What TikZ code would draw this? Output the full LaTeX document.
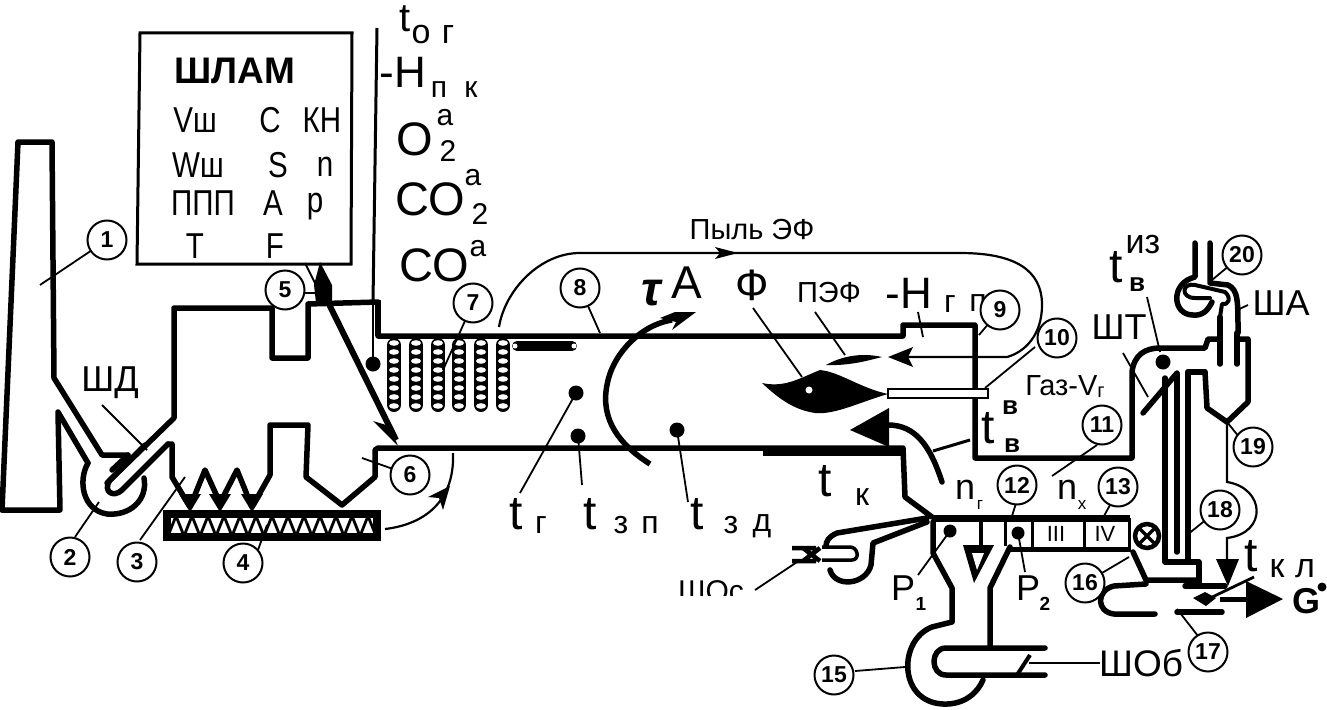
\documentclass[tikz,border=0pt]{standalone}
\usepackage{graphicx}
\usepackage{fontspec}
\setmainfont{Liberation Sans}
\usetikzlibrary{arrows.meta}
\newcommand{\nrw}[1]{\scalebox{.82}[1]{#1}}
\tikzset{
 wall/.style={line width=5.5pt,line join=round,line cap=round},
 thin/.style={line width=2.2pt},
 lead/.style={line width=1.8pt},
 num/.style={circle,draw,line width=2pt,fill=white,minimum size=39pt,inner sep=0pt,font=\bfseries\fontsize{23}{23}\selectfont},
 lab/.style={inner sep=0pt,font=\fontsize{48}{48}\selectfont},
 labm/.style={inner sep=0pt,font=\fontsize{34}{34}\selectfont},
 labq/.style={inner sep=0pt,font=\fontsize{30}{30}\selectfont},
 labs/.style={inner sep=0pt,font=\fontsize{32}{32}\selectfont},
 labt/.style={inner sep=0pt,font=\fontsize{36}{36}\selectfont},
 dotm/.style={circle,fill=black,inner sep=0pt,minimum size=15pt},
 coil/.style={line width=14pt,line cap=round},
}
\begin{document}
\begin{tikzpicture}[x=1pt,y=-1pt]
\useasboundingbox (0,0) rectangle (1327,709);
\begin{scope}
\clip (0,0) rectangle (1327,709);
% chimney
\draw[wall] (2,510) -- (18,142) -- (52,142) -- (54,378) -- (102,455) -- (128,455);
\draw[wall] (2,510) -- (60,510) -- (58,412) -- (88,463);
% fan 2
\draw[wall] (88,463) .. controls (78,480) and (82,510) .. (107,514) .. controls (130,516) and (148,500) .. (144,478);
\draw[wall] (145,445) -- (110,480) .. controls (102,492) and (114,498) .. (122,490) -- (168,444);
\draw[wall] (128,455) -- (112,470);
% main walls
\draw[wall] (107,483) -- (174,418) -- (174,308) -- (272,308) -- (272,358) -- (308,358) -- (308,304) -- (378,302) -- (378,336) -- (903,336) -- (903,325) -- (975,325) -- (975,458) -- (1132,458) -- (1132,372) .. controls (1134,355) and (1145,348) .. (1160,348) -- (1205,348) -- (1208,339) -- (1220,339);
\draw[wall] (168,444) -- (172,444) -- (172,477) -- (190,507) -- (205,470) -- (220,503) -- (237,470) -- (252,507) -- (270,475) -- (270,425) -- (308,425) -- (306,477) -- (342,505) -- (375,477) -- (375,450) -- (378,448) -- (903,448) -- (905,497) -- (932,517);
\draw[line width=9pt] (763,451) -- (903,451);
\foreach \x in {190,220,252}{\fill (\x-11,494) -- (\x+11,494) -- (\x,512) -- cycle;}
% grate
\draw[line width=8pt,fill=white] (167,514) rectangle (377,537);
\foreach \i in {0,...,12}{
 \draw[line width=2.8pt] ({168+\i*16},536) -- ({176+\i*16},516) -- ({184+\i*16},536);
}
\draw[thin] (385,529) .. controls (420,525) and (455,505) .. (453,453);
\fill (450,486) -- (443,510) -- (439,498) -- (428,497) -- cycle;
% box
\draw[line width=3pt] (140,33) -- (352,33) -- (351,264) -- (137,264) -- cycle;
\node[inner sep=0pt,font=\bfseries\fontsize{37}{37}\selectfont] at (235,71) {ШЛАМ};
\foreach \t/\x/\y in {Vш/195/120,С/270/120,КН/322/120,Wш/198/165,S/278/165,n/325/167,ППП/203/203,А/273/203,р/315/207,Т/195/246,F/275/246}{
 \node[labt] at (\x,\y) {\nrw{\t}};}
% vertical line
\draw[line width=3pt] (377,28) -- (373,302);
\draw[line width=6pt] (378,300) -- (378,336);
% labels top
\node[inner sep=0pt,font=\fontsize{40}{40}\selectfont] at (405,19) {t}; \node[labm] at (421,35) {о}; \node[labm] at (448,35) {г};
\node[inner sep=0pt,font=\fontsize{44}{44}\selectfont] at (403,72) {-Н}; \node[labq] at (439,90) {п}; \node[labq] at (471,90) {к};
\node[inner sep=0pt,font=\fontsize{47}{47}\selectfont] at (415,139) {О}; \node[labq] at (445,118) {a}; \node[labq] at (448,151) {2};
\node[inner sep=0pt,font=\fontsize{47}{47}\selectfont] at (430,199) {СО}; \node[labq] at (473,178) {a}; \node[labq] at (480,214) {2};
\node[inner sep=0pt,font=\fontsize{47}{47}\selectfont] at (434,265) {СО}; \node[labq] at (478,249) {a};
% rod
\draw[line width=6pt] (322,290) -- (396,440);
\draw[line width=2pt] (305,263) -- (320,293);
\fill (320,262) -- (332,285) -- (332,303) -- (316,303) -- (314,285) -- cycle;
\fill (398,446) -- (373,421) -- (386,425) -- (384,412) -- cycle;
\draw[line width=2pt] (373,302) -- (373,360);
\node[dotm] at (373,364) {};
% coils
\foreach \x in {394,416,438,459,481,503}{
 \draw[coil] (\x,345) -- (\x,405);
 \foreach \k in {0,...,7}{\fill[white] (\x,{343+\k*9}) ellipse (5pt and 2.8pt);}
}
% heater 8
\draw[line width=10pt,line cap=round] (517,346) -- (572,346);
\fill[white] (515,346) circle (2.5pt); \fill[white] (574,346) circle (2.5pt);
% duct Пыль
\draw[thin] (499,327) .. controls (505,290) and (540,253) .. (580,253) -- (960,253) .. controls (1015,253) and (1042,270) .. (1042,305) .. controls (1042,335) and (1025,352) .. (1007,357) -- (905,357);
\fill (715,247) -- (738,253) -- (715,259) -- (720,253) -- cycle;
\fill (888,357) -- (913,347) -- (908,357) -- (913,367) -- cycle;
\node[inner sep=0pt,font=\fontsize{29}{29}\selectfont] at (752,230) {Пыль ЭФ};
% rotation arrow
\draw[line width=5.5pt] (650,464) .. controls (620,445) and (600,420) .. (607,385) .. controls (612,355) and (640,325) .. (672,320);
\fill (696,312) -- (672,330) -- (676,322) -- (660,318) -- (675,312) -- cycle;
\node[inner sep=0pt,font=\bfseries\itshape\fontsize{48}{48}\selectfont] at (651,293) {τ};
\node[inner sep=0pt,font=\fontsize{46}{46}\selectfont] at (687,283) {А};
\node[inner sep=0pt,font=\fontsize{44}{44}\selectfont] at (752,285) {Ф};
\node[inner sep=0pt,font=\fontsize{29}{29}\selectfont] at (829,293) {ПЭФ};
\node[inner sep=0pt,font=\fontsize{44}{44}\selectfont] at (909,293) {-Н}; \node[labs] at (950,304) {г}; \node[labs] at (978,303) {п};
% flames
\fill (762,383) .. controls (785,388) and (800,378) .. (820,370) .. controls (840,372) and (860,388) .. (888,394) .. controls (860,402) and (835,415) .. (815,413) .. controls (795,410) and (780,400) .. (762,383) -- cycle;
\fill[white] (809,390) circle (3.5pt);
\fill (826,365) .. controls (840,357) and (860,352) .. (882,357) .. controls (870,360) and (850,366) .. (826,365) -- cycle;
\draw[lead] (753,308) -- (802,377);
\draw[lead] (815,312) -- (845,355);
\draw[lead] (918,312) -- (923,337);
% burner
\draw[line width=2.5pt,fill=white] (888,389) rectangle (988,398);
\draw[line width=3pt] (970,440) -- (933,451);
% big arrow
\draw[line width=5.5pt,line cap=round] (888,425) .. controls (915,425) and (930,445) .. (942,482);
\fill (850,430) -- (889,408) -- (889,447) -- cycle;
% dots with leaders
\foreach \a/\b in {576/393,578/436,677/430}{\node[dotm] at (\a,\b) {};}
\draw[lead] (576,393) -- (520,493);
\draw[lead] (578,436) -- (582,485);
\draw[lead] (677,430) -- (688,502);
\node[lab] at (516,514) {t}; \node[labs] at (541,525) {г};
\node[lab] at (590,514) {t}; \node[labs] at (621,525) {з}; \node[labs] at (650,525) {п};
\node[lab] at (697,514) {t}; \node[labs] at (731,525) {з}; \node[labs] at (762,526) {д};
\node[lab] at (825,481) {t}; \node[labs] at (862,497) {к};
% t_в
\node[lab] at (988,428) {t}; \node[inner sep=0pt,font=\bfseries\fontsize{26}{26}\selectfont] at (1010,408) {в}; \node[inner sep=0pt,font=\bfseries\fontsize{26}{26}\selectfont] at (1012,446) {в};
\node[inner sep=0pt,font=\fontsize{29}{29}\selectfont] at (1065,387) {Газ-V\raisebox{-2pt}{\fontsize{20}{20}\selectfont г}};
% bar
\draw[line width=7pt] (932,518) -- (1130,518);
\draw[line width=5pt] (1010,549) -- (1131,549);
\draw[line width=3pt] (981,522) -- (981,545) (1005,522) -- (1005,546) (1032,522) -- (1032,548) (1084,522) -- (1084,548) (1129,518) -- (1129,550);
\node[inner sep=0pt,font=\fontsize{22}{22}\selectfont] at (1056,534) {III};
\node[inner sep=0pt,font=\fontsize{22}{22}\selectfont] at (1105,534) {IV};
% valve
\draw[line width=4.5pt] (1147,536) circle (12pt);
\draw[line width=3.5pt] (1139,528) -- (1155,544) (1139,544) -- (1155,528);
% ШОс fan
\draw[wall] (927,518) -- (837,533) .. controls (828,537) and (826,542) .. (826,546);
\draw[wall] (927,522) -- (873,543) -- (871,565) .. controls (866,585) and (835,588) .. (830,570);
\draw[line width=3.5pt,rounded corners=6pt] (822,547) -- (856,547) -- (858,560) -- (822,560);
\draw[line width=4.5pt] (792,548) -- (816,548) (792,561) -- (816,561) (803,548) -- (820,561) (803,561) -- (820,548);
\begin{scope}
\clip (680,560) rectangle (770,595);
\node[inner sep=0pt,font=\fontsize{30}{30}\selectfont] at (711,591) {ШОс};
\end{scope}
\draw[lead] (755,590) -- (797,562);
% lower funnel 15
\draw[wall] (933,522) -- (933,553) -- (952,588) -- (952,622) -- (932,627) .. controls (898,640) and (898,702) .. (943,704) .. controls (965,705) and (978,692) .. (983,680);
\draw[wall] (1010,547) -- (990,588) -- (990,648);
\draw[wall] (1045,648) -- (946,648) .. controls (930,648) and (930,675) .. (946,675) -- (1045,675);
\draw[line width=4pt] (1030,655) -- (1017,675);
\draw[thin] (1029,663) -- (1100,663);
\draw[lead] (855,671) -- (905,667);
\node[inner sep=0pt,font=\fontsize{37}{37}\selectfont] at (1141,663) {ШОб};
\draw[line width=3pt] (980,520) -- (980,545);
\fill (963,545) -- (994,545) -- (974,583) -- cycle;
\fill[white] (972,553) -- (984,553) -- (977,570) -- cycle;
% dots P
\node[dotm,minimum size=13pt] at (950,531) {};
\node[dotm,minimum size=13pt] at (1018,533) {};
\draw[lead] (950,531) -- (918,575);
\draw[lead] (1018,533) -- (1025,572);
\node[inner sep=0pt,font=\fontsize{36}{36}\selectfont] at (903,588) {Р}; \node[inner sep=0pt,font=\bfseries\fontsize{19}{19}\selectfont] at (921,604) {1};
\node[inner sep=0pt,font=\fontsize{36}{36}\selectfont] at (1028,588) {Р}; \node[inner sep=0pt,font=\bfseries\fontsize{19}{19}\selectfont] at (1045,604) {2};
\node[inner sep=0pt,font=\fontsize{36}{36}\selectfont] at (965,490) {n}; \node[inner sep=0pt,font=\fontsize{17}{17}\selectfont] at (980,505) {г};
\node[inner sep=0pt,font=\fontsize{36}{36}\selectfont] at (1067,490) {n}; \node[inner sep=0pt,font=\fontsize{17}{17}\selectfont] at (1082,505) {x};
% tubes
\draw[wall] (1188,372) -- (1188,562) -- (1199,562) -- (1199,583);
\draw[wall] (1165,378) -- (1165,562) -- (1188,562);
\draw[wall] (1177,374) -- (1177,552);
\draw[wall] (1205,372) -- (1188,372);
\draw[wall] (1143,413) -- (1177,373);
% lower U
\draw[wall] (1133,552) -- (1146,580) -- (1199,580);
\draw[wall] (1146,584) -- (1114,586) .. controls (1096,590) and (1096,612) .. (1114,614) -- (1155,614);
\draw[wall] (1177,612) -- (1222,612);
\draw[wall] (1185,586) -- (1225,586);
\fill (1193,598) -- (1205,592) -- (1216,598) -- (1206,606) -- cycle;
\draw[line width=2.8pt] (1206,600) -- (1254,577);
\draw[line width=5pt] (1220,599) -- (1250,599);
\fill (1246,581) -- (1283,599) -- (1246,618) -- cycle;
\node[inner sep=0pt,font=\bfseries\fontsize{36}{36}\selectfont] at (1306,601) {G};
\fill (1322,587) circle (4.5pt);
\node[lab] at (1251,556) {t}; \node[labm] at (1277,569) {к}; \node[labm] at (1305,569) {л};
% line 19 to arrow
\draw[thin] (1227,422) -- (1227,482) .. controls (1265,488) and (1268,533) .. (1227,538) -- (1227,565);
\fill (1216,559) -- (1239,559) -- (1228,586) -- cycle;
% right part
\draw[wall] (1205,372) -- (1207,408) -- (1227,422) -- (1248,402) -- (1248,339) -- (1237,339);
\draw[wall] (1220,317) -- (1220,364);
\draw[wall] (1237,333) -- (1237,364);
\node[dotm] at (1163,362) {};
\draw[lead] (1147,297) -- (1160,352);
\draw[lead] (1123,353) -- (1148,397);
% fan 20
\draw[wall] (1195,243) -- (1195,277) .. controls (1170,283) and (1172,315) .. (1193,315) .. controls (1203,316) and (1208,310) .. (1212,302);
\draw[wall] (1210,243) -- (1210,283) -- (1228,285) .. controls (1238,290) and (1238,300) .. (1238,333);
\draw[wall,line width=4pt] (1210,298) -- (1195,298) .. controls (1180,298) and (1182,282) .. (1195,285) -- (1225,292) .. controls (1232,298) and (1228,306) .. (1222,304) -- (1220,317);
\draw[lead] (1237,310) -- (1248,305);
\node[inner sep=0pt,font=\fontsize{36}{36}\selectfont] at (1281,303) {ША};
\node[inner sep=0pt,font=\fontsize{36}{36}\selectfont] at (1119,327) {ШТ};
\node[lab] at (1116,267) {t}; \node[labm] at (1143,245) {из}; \node[inner sep=0pt,font=\bfseries\fontsize{26}{26}\selectfont] at (1137,285) {в};
% leaders to numbers
\draw[lead] (40,285) -- (107,240);
\draw[lead] (75,537) -- (99,502);
\draw[lead] (140,540) -- (185,477);
\draw[lead] (258,550) -- (267,525);
\draw[lead] (303,293) -- (320,293);
\draw[lead] (410,475) -- (362,458);
\draw[lead] (473,303) -- (443,370);
\draw[lead] (580,288) -- (600,333);
\draw[lead] (1000,310) -- (979,335);
\draw[lead] (1035,347) -- (985,388);
\draw[lead] (1097,445) -- (1052,476);
\draw[lead] (1017,500) -- (1012,516);
\draw[lead] (1110,505) -- (1104,516);
\draw[lead] (1085,583) -- (1129,557);
\draw[lead] (1198,636) -- (1177,609);
\draw[lead] (1218,510) -- (1187,535);
\draw[lead] (1247,447) -- (1227,422);
\draw[lead] (1242,255) -- (1212,280);
\draw[lead] (102,405) -- (147,450);
% numbers
\node[num] at (107,240) {1};
\node[num] at (70,557) {2};
\node[num] at (137,562) {3};
\node[num] at (243,563) {4};
\node[num] at (285,290) {5};
\node[num] at (410,475) {6};
\node[num] at (473,303) {7};
\node[num] at (580,288) {8};
\node[num] at (1000,310) {9};
\node[num] at (1057,338) {10};
\node[num] at (1102,425) {11};
\node[num] at (1017,485) {12};
\node[num] at (1118,487) {13};
\node[num] at (834,675) {15};
\node[num] at (1085,583) {16};
\node[num] at (1208,652) {17};
\node[num] at (1220,510) {18};
\node[num] at (1253,447) {19};
\node[num] at (1242,255) {20};
\node[inner sep=0pt,font=\fontsize{36}{36}\selectfont] at (110,383) {ШД};
\end{scope}
\end{tikzpicture}
\end{document}
